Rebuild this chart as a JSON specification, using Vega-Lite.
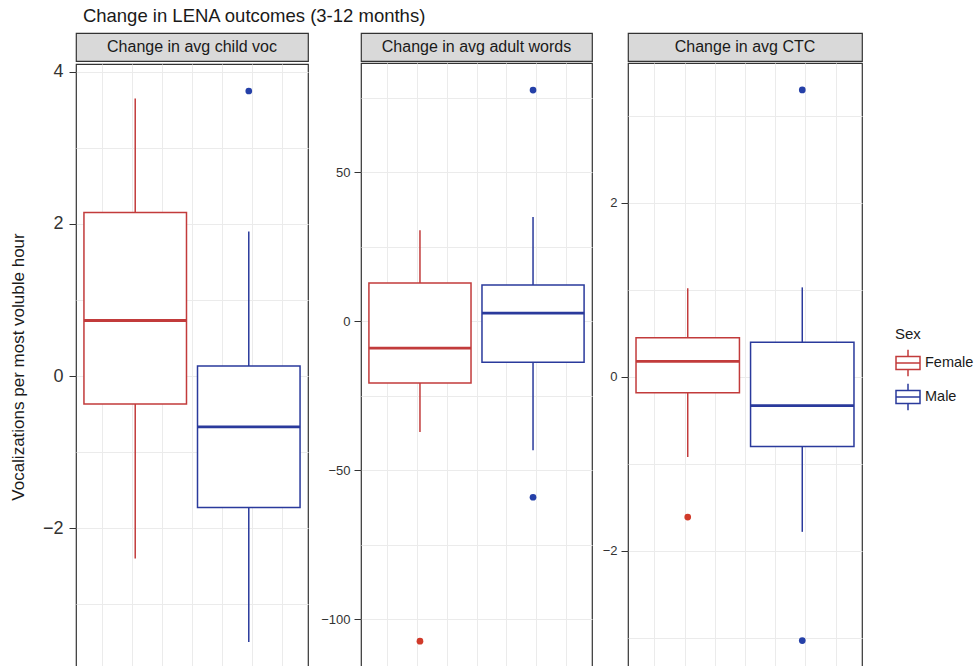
{
  "$schema": "https://vega.github.io/schema/vega-lite/v6.json",
  "background": "white",
  "padding": {"left": 8, "top": 6, "right": 5, "bottom": 0},
  "title": {"text": "Change in LENA outcomes (3-12 months)", "anchor": "start", "fontSize": 18.5, "fontWeight": "normal", "font": "Liberation Sans", "color": "#1a1a1a", "offset": 7, "dx": 74},
  "datasets": {
    "boxes": [
      {"panel": "child", "Sex": "Female", "lower": -2.4, "q1": -0.37, "median": 0.73, "q3": 2.15, "upper": 3.65},
      {"panel": "child", "Sex": "Male", "lower": -3.5, "q1": -1.73, "median": -0.67, "q3": 0.13, "upper": 1.9},
      {"panel": "adult", "Sex": "Female", "lower": -37.2, "q1": -20.8, "median": -9.1, "q3": 12.8, "upper": 30.5},
      {"panel": "adult", "Sex": "Male", "lower": -43.3, "q1": -13.8, "median": 2.7, "q3": 12.1, "upper": 34.9},
      {"panel": "ctc", "Sex": "Female", "lower": -0.92, "q1": -0.18, "median": 0.18, "q3": 0.45, "upper": 1.02},
      {"panel": "ctc", "Sex": "Male", "lower": -1.78, "q1": -0.8, "median": -0.33, "q3": 0.4, "upper": 1.03}
    ],
    "outliers": [
      {"panel": "child", "Sex": "Male", "value": 3.75},
      {"panel": "adult", "Sex": "Female", "value": -107.4},
      {"panel": "adult", "Sex": "Male", "value": 77.5},
      {"panel": "adult", "Sex": "Male", "value": -59.1},
      {"panel": "ctc", "Sex": "Female", "value": -1.61},
      {"panel": "ctc", "Sex": "Male", "value": 3.3},
      {"panel": "ctc", "Sex": "Male", "value": -3.03}
    ],
    "grid": [{"g": 0.13}, {"g": 7.87}],
    "strip_child": [{"label": "Change in avg child voc"}],
    "strip_adult": [{"label": "Change in avg adult words"}],
    "strip_ctc": [{"label": "Change in avg CTC"}]
  },
  "config": {
    "font": "Liberation Sans",
    "view": {"stroke": "#333333", "strokeWidth": 1.2},
    "axis": {"labelFont": "Liberation Sans", "titleFont": "Liberation Sans"}
  },
  "spacing": 2,
  "hconcat": [
    {
      "spacing": 0,
      "vconcat": [
        {
          "width": 232, "height": 28,
          "data": {"name": "strip_child"},
          "view": {"fill": "#d9d9d9", "stroke": "#333333", "strokeWidth": 1.2},
          "mark": {"type": "text", "fontSize": 16, "color": "#1a1a1a", "font": "Liberation Sans"},
          "encoding": {"text": {"field": "label"}}
        },
        {
          "width": 232, "height": 605,
          "layer": [
            {
              "data": {"name": "grid"},
              "mark": {"type": "point", "opacity": 0},
              "encoding": {
                "x": {"field": "g", "type": "quantitative", "scale": {"domain": [0.13, 7.87], "nice": false, "zero": false},
                      "axis": {"orient": "bottom", "values": [1, 2, 3, 4, 5, 6, 7], "grid": true, "gridColor": "#ebebeb", "labels": false, "ticks": false, "domain": false, "title": null}}
              }
            },
            {
              "layer": [
                {"data": {"name": "boxes"}, "transform": [{"filter": "datum.panel === 'child'"}],
                 "mark": {"type": "rule", "strokeWidth": 1.5}, "encoding": {"y": {"field": "lower", "type": "quantitative"}, "y2": {"field": "upper"}}},
                {"data": {"name": "boxes"}, "transform": [{"filter": "datum.panel === 'child'"}],
                 "mark": {"type": "rect", "fill": "white", "strokeWidth": 1.5}, "encoding": {"y": {"field": "q1", "type": "quantitative"}, "y2": {"field": "q3"}}},
                {"data": {"name": "boxes"}, "transform": [{"filter": "datum.panel === 'child'"}],
                 "mark": {"type": "rect", "fill": "white", "strokeWidth": 2.8}, "encoding": {"y": {"field": "median", "type": "quantitative"}, "y2": {"field": "median"}}},
                {"data": {"name": "outliers"}, "transform": [{"filter": "datum.panel === 'child'"}],
                 "mark": {"type": "point", "filled": true, "size": 45, "opacity": 1, "strokeWidth": 0},
                 "encoding": {"y": {"field": "value", "type": "quantitative"},
                              "color": {"condition": {"test": "datum.Sex === 'Female'", "value": "#d03a2a"}, "value": "#2540a8"}}}
              ],
              "encoding": {
                "x": {"field": "Sex", "type": "nominal", "scale": {"type": "band", "paddingInner": 0.097, "paddingOuter": 0.07}, "axis": null},
                "stroke": {"field": "Sex", "type": "nominal", "scale": {"domain": ["Female", "Male"], "range": ["#c23b3b", "#2a3a9c"]}, "legend": null}
              }
            }
          ],
          "encoding": {
            "y": {"type": "quantitative",
                  "scale": {"domain": [-3.855, 4.105], "nice": false, "zero": false},
                  "axis": {"values": [-3, -2, -1, 0, 1, 2, 3, 4], "labelExpr": "datum.value % 2 === 0 ? datum.label : ''",
                           "tickOpacity": {"condition": {"test": "datum.value % 2 === 0", "value": 1}, "value": 0},
                           "grid": true, "gridColor": "#ebebeb", "domain": false, "tickColor": "#333333", "tickSize": 7,
                           "labelFontSize": 18, "labelColor": "#333333", "labelPadding": 6,
                           "title": "Vocalizations per most voluble hour", "titleFontSize": 17, "titleFontWeight": "normal", "titleColor": "#1a1a1a", "titlePadding": 15}}
          },
          "resolve": {"scale": {"x": "independent"}, "axis": {"x": "independent"}}
        }
      ]
    },
    {
      "spacing": 0,
      "vconcat": [
        {
          "width": 231, "height": 28,
          "data": {"name": "strip_adult"},
          "view": {"fill": "#d9d9d9", "stroke": "#333333", "strokeWidth": 1.2},
          "mark": {"type": "text", "fontSize": 16, "color": "#1a1a1a", "font": "Liberation Sans"},
          "encoding": {"text": {"field": "label"}}
        },
        {
          "width": 231, "height": 605,
          "layer": [
            {
              "data": {"name": "grid"},
              "mark": {"type": "point", "opacity": 0},
              "encoding": {
                "x": {"field": "g", "type": "quantitative", "scale": {"domain": [0.13, 7.87], "nice": false, "zero": false},
                      "axis": {"orient": "bottom", "values": [1, 2, 3, 4, 5, 6, 7], "grid": true, "gridColor": "#ebebeb", "labels": false, "ticks": false, "domain": false, "title": null}}
              }
            },
            {
              "layer": [
                {"data": {"name": "boxes"}, "transform": [{"filter": "datum.panel === 'adult'"}],
                 "mark": {"type": "rule", "strokeWidth": 1.5}, "encoding": {"y": {"field": "lower", "type": "quantitative"}, "y2": {"field": "upper"}}},
                {"data": {"name": "boxes"}, "transform": [{"filter": "datum.panel === 'adult'"}],
                 "mark": {"type": "rect", "fill": "white", "strokeWidth": 1.5}, "encoding": {"y": {"field": "q1", "type": "quantitative"}, "y2": {"field": "q3"}}},
                {"data": {"name": "boxes"}, "transform": [{"filter": "datum.panel === 'adult'"}],
                 "mark": {"type": "rect", "fill": "white", "strokeWidth": 2.8}, "encoding": {"y": {"field": "median", "type": "quantitative"}, "y2": {"field": "median"}}},
                {"data": {"name": "outliers"}, "transform": [{"filter": "datum.panel === 'adult'"}],
                 "mark": {"type": "point", "filled": true, "size": 45, "opacity": 1, "strokeWidth": 0},
                 "encoding": {"y": {"field": "value", "type": "quantitative"},
                              "color": {"condition": {"test": "datum.Sex === 'Female'", "value": "#d03a2a"}, "value": "#2540a8"}}}
              ],
              "encoding": {
                "x": {"field": "Sex", "type": "nominal", "scale": {"type": "band", "paddingInner": 0.097, "paddingOuter": 0.07}, "axis": null},
                "stroke": {"field": "Sex", "type": "nominal", "scale": {"domain": ["Female", "Male"], "range": ["#c23b3b", "#2a3a9c"]}, "legend": null}
              }
            }
          ],
          "encoding": {
            "y": {"type": "quantitative",
                  "scale": {"domain": [-116.4, 86.6], "nice": false, "zero": false},
                  "axis": {"values": [-100, -75, -50, -25, 0, 25, 50, 75], "labelExpr": "datum.value % 50 === 0 ? datum.label : ''",
                           "tickOpacity": {"condition": {"test": "datum.value % 50 === 0", "value": 1}, "value": 0},
                           "grid": true, "gridColor": "#ebebeb", "domain": false, "tickColor": "#333333", "tickSize": 7,
                           "labelFontSize": 13, "labelColor": "#333333", "labelPadding": 4, "title": null, "minExtent": 46}}
          },
          "resolve": {"scale": {"x": "independent"}, "axis": {"x": "independent"}}
        }
      ]
    },
    {
      "spacing": 0,
      "vconcat": [
        {
          "width": 234, "height": 28,
          "data": {"name": "strip_ctc"},
          "view": {"fill": "#d9d9d9", "stroke": "#333333", "strokeWidth": 1.2},
          "mark": {"type": "text", "fontSize": 16, "color": "#1a1a1a", "font": "Liberation Sans"},
          "encoding": {"text": {"field": "label"}}
        },
        {
          "width": 234, "height": 605,
          "layer": [
            {
              "data": {"name": "grid"},
              "mark": {"type": "point", "opacity": 0},
              "encoding": {
                "x": {"field": "g", "type": "quantitative", "scale": {"domain": [0.13, 7.87], "nice": false, "zero": false},
                      "axis": {"orient": "bottom", "values": [1, 2, 3, 4, 5, 6, 7], "grid": true, "gridColor": "#ebebeb", "labels": false, "ticks": false, "domain": false, "title": null}}
              }
            },
            {
              "layer": [
                {"data": {"name": "boxes"}, "transform": [{"filter": "datum.panel === 'ctc'"}],
                 "mark": {"type": "rule", "strokeWidth": 1.5}, "encoding": {"y": {"field": "lower", "type": "quantitative"}, "y2": {"field": "upper"}}},
                {"data": {"name": "boxes"}, "transform": [{"filter": "datum.panel === 'ctc'"}],
                 "mark": {"type": "rect", "fill": "white", "strokeWidth": 1.5}, "encoding": {"y": {"field": "q1", "type": "quantitative"}, "y2": {"field": "q3"}}},
                {"data": {"name": "boxes"}, "transform": [{"filter": "datum.panel === 'ctc'"}],
                 "mark": {"type": "rect", "fill": "white", "strokeWidth": 2.8}, "encoding": {"y": {"field": "median", "type": "quantitative"}, "y2": {"field": "median"}}},
                {"data": {"name": "outliers"}, "transform": [{"filter": "datum.panel === 'ctc'"}],
                 "mark": {"type": "point", "filled": true, "size": 45, "opacity": 1, "strokeWidth": 0},
                 "encoding": {"y": {"field": "value", "type": "quantitative"},
                              "color": {"condition": {"test": "datum.Sex === 'Female'", "value": "#d03a2a"}, "value": "#2540a8"}}}
              ],
              "encoding": {
                "x": {"field": "Sex", "type": "nominal", "scale": {"type": "band", "paddingInner": 0.097, "paddingOuter": 0.07}, "axis": null},
                "stroke": {"field": "Sex", "type": "nominal", "scale": {"domain": ["Female", "Male"], "range": ["#c23b3b", "#2a3a9c"]},
                           "legend": {"title": "Sex", "orient": "none", "legendX": 267, "legendY": 294, "titleFontSize": 15, "titleFontWeight": "normal", "titleColor": "#1a1a1a", "labelFontSize": 14.5, "labelColor": "#1a1a1a", "symbolType": "M-1,-0.55H1V0.55H-1Z M-1,0H1 M0,-0.55V-1.1 M0,0.55V1.1", "symbolSize": 576, "symbolStrokeWidth": 1.5, "symbolFillColor": "white", "rowPadding": 0, "labelOffset": 4, "titlePadding": 8,
                                      "encode": {"symbols": {"update": {"fill": {"value": "white"}, "fillOpacity": {"value": 1}}}}}}
              }
            }
          ],
          "encoding": {
            "y": {"type": "quantitative",
                  "scale": {"domain": [-3.345, 3.609], "nice": false, "zero": false},
                  "axis": {"values": [-3, -2, -1, 0, 1, 2, 3], "labelExpr": "datum.value % 2 === 0 ? datum.label : ''",
                           "tickOpacity": {"condition": {"test": "datum.value % 2 === 0", "value": 1}, "value": 0},
                           "grid": true, "gridColor": "#ebebeb", "domain": false, "tickColor": "#333333", "tickSize": 7,
                           "labelFontSize": 13, "labelColor": "#333333", "labelPadding": 4, "title": null, "minExtent": 29}}
          },
          "resolve": {"scale": {"x": "independent"}, "axis": {"x": "independent"}}
        }
      ]
    }
  ],
  "resolve": {"scale": {"y": "independent", "stroke": "independent", "color": "independent"}}
}
